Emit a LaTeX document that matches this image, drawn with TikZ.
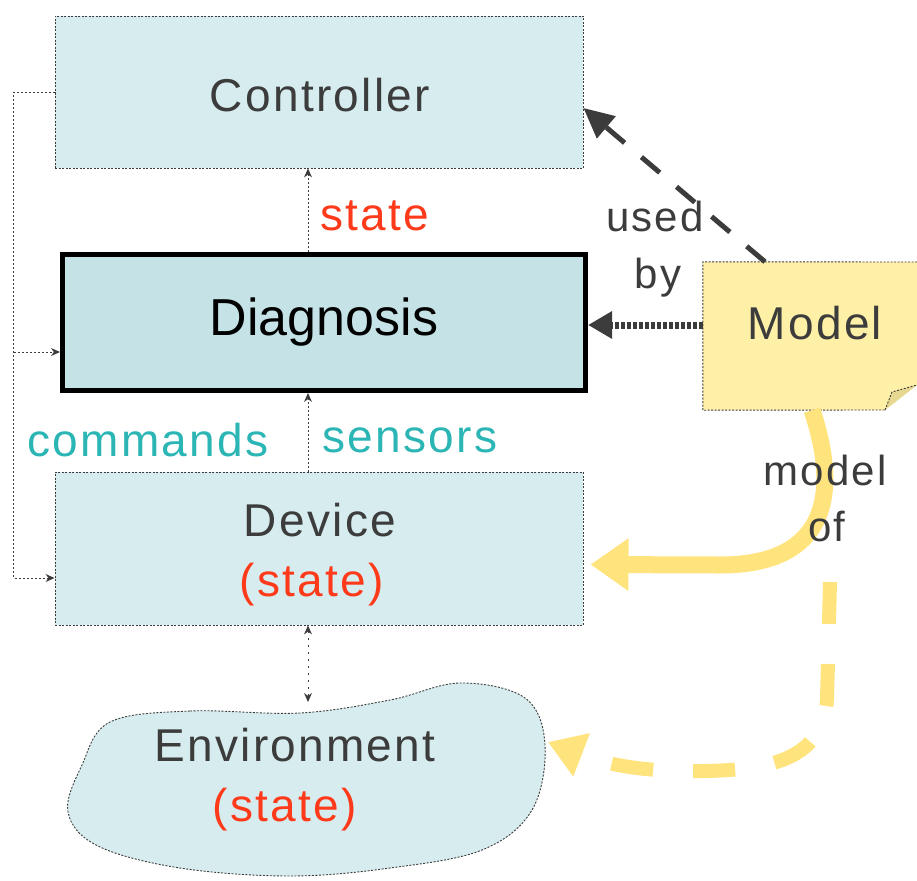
\documentclass[tikz,border=0pt]{standalone}
\usepackage{fontspec}
\setmainfont{Liberation Sans}
\newfontfamily\dotfont[LetterSpace=5]{Liberation Sans}
\usetikzlibrary{arrows.meta,calc}
\definecolor{boxfill}{HTML}{D6ECEE}
\definecolor{diagfill}{HTML}{C5E3E6}
\definecolor{notefill}{HTML}{FFF0A8}
\definecolor{notefold}{HTML}{E6D890}
\definecolor{arrowyellow}{HTML}{FFE47E}
\definecolor{statered}{HTML}{FF3A1A}
\definecolor{ioteal}{HTML}{2BB5B5}
\definecolor{inkgray}{HTML}{3C3C3C}
\tikzset{
  blockbox/.style={draw=inkgray, dash pattern=on 2pt off 1.5pt, line width=0.9pt,
    fill=boxfill, minimum width=528, minimum height=152, inner sep=0},
  diagbox/.style={draw=black, line width=5pt, fill=diagfill,
    minimum width=523, minimum height=136, inner sep=0,
    font=\fontsize{52}{56}\selectfont},
  bigtext/.style={text=inkgray, font=\dotfont\fontsize{46}{50}\selectfont, inner sep=0},
  linktext/.style={font=\dotfont\fontsize{46}{50}\selectfont, inner sep=0},
  smalltext/.style={font=\dotfont\fontsize{42}{46}\selectfont, inner sep=0},
  thinlink/.style={draw=inkgray, line width=0.9pt, dash pattern=on 2pt off 2pt,
    -{Stealth[length=9pt,width=8pt]}},
  heavylink/.style={draw=inkgray, line width=7pt, dash pattern=on 4pt off 2pt,
    -{Triangle[length=24pt,width=26pt]}},
  usedlink/.style={draw=inkgray, line width=5pt, dash pattern=on 24pt off 22pt,
    -{Triangle[length=30pt,width=28pt]}},
  yellowlink/.style={draw=arrowyellow, line width=17pt,
    -{Triangle[length=38pt,width=50pt]}},
  yellowdash/.style={draw=arrowyellow, line width=14pt, dash pattern=on 42pt off 40pt,
    -{Triangle[length=36pt,width=44pt]}},
}
\begin{document}
\begin{tikzpicture}[x=1pt,y=-1pt]
\useasboundingbox (0,0) rectangle (917,880);

% main blocks
\node[blockbox] (ctrl) at (319,92) {};
\node[bigtext] (ctrltxt) at (320,95) {Controller};
\node[diagbox] (diag) at (324,322.5) {Diagnosis};
\node[blockbox, minimum height=153] (dev) at (319,548.5) {};
\node[bigtext] (devtxt) at (320,520) {Device};
\node[bigtext, text=statered] (devstate) at (312,585) {(state)};

% environment blob
\draw[draw=inkgray, dash pattern=on 2pt off 1.5pt, line width=0.9pt, fill=boxfill]
  plot[smooth cycle, tension=0.6] coordinates {
    (110,722) (190,711) (300,713) (390,700) (460,683) (525,698)
    (545,745) (532,810) (482,850) (390,868) (290,876) (180,868)
    (98,846) (68,812) (82,765)};
\node[bigtext] (envtxt) at (295,745) {Environment};
\node[bigtext, text=statered] (envstate) at (285,810) {(state)};
\coordinate (envtop) at (308,702);
\coordinate (envright) at (548,742);

% model note with folded corner
\node[minimum width=214, minimum height=148, inner sep=0] (model) at (810,336) {};
\fill[notefill] (model.north west) -- (model.north east) -- (917,385) -- (885,410)
  -- (model.south west) -- cycle;
\draw[draw=inkgray, dash pattern=on 2pt off 1.5pt, line width=0.9pt]
  (917,262) -- (model.north west) -- (model.south west) -- (885,410);
\fill[notefold] (885,410) -- (892,392) -- (917,385) -- cycle;
\draw[draw=inkgray, dash pattern=on 2pt off 1.5pt, line width=0.9pt]
  (885,410) -- (892,392) -- (917,385);
\node[bigtext] (modeltxt) at (815,323) {Model};

% labels on the vertical links
\node[linktext, text=statered] (lblstate) at (375,216) {state};
\node[linktext, text=ioteal] (lblcmd) at (148,440) {commands};
\node[linktext, text=ioteal] (lblsens) at (410,440) {sensors};

% vertical links
\draw[thinlink] ([xshift=-16]diag.north) -- ([xshift=-11]ctrl.south);
\draw[thinlink] ([xshift=-11]dev.north) -- ([xshift=-16]diag.south);
\draw[thinlink, {Stealth[length=9pt,width=8pt]}-{Stealth[length=9pt,width=8pt]},
  dash pattern=on 2pt off 5pt] ([xshift=-11]dev.south) -- (envtop);

% command loop on the left
\coordinate (lbranch) at (14,352);
\draw[thinlink] (ctrl.west) -- ++(-41,0) |- ([yshift=-29.5]dev.west);
\draw[thinlink] (lbranch) -- (lbranch -| diag.west);

% model usage
\draw[heavylink] ([yshift=11]model.west) -- ([yshift=11]model.west -| diag.east);
\draw[usedlink] ([xshift=-45]model.north) -- ([yshift=-16]ctrl.east);
\node[smalltext, text=inkgray] (lblused) at (655,216) {used};
\node[smalltext, text=inkgray] (lblby) at (658,278) {by};

% model-of arrows
\draw[yellowlink] ([xshift=2]model.south) .. controls (832,470) and (845,565) ..
  (720,565) -- ([xshift=7,yshift=-16]dev.east);
\coordinate (mstart) at (830,582);
\draw[yellowdash] (mstart) -- (827,700) .. controls (822,765) and (760,772) ..
  (680,771) .. controls (630,770) and (600,762) .. (envright);
\node[smalltext, text=inkgray] (lblmodel) at (825,470) {model};
\node[smalltext, text=inkgray] (lblof) at (827,527) {of};
\end{tikzpicture}
\end{document}
